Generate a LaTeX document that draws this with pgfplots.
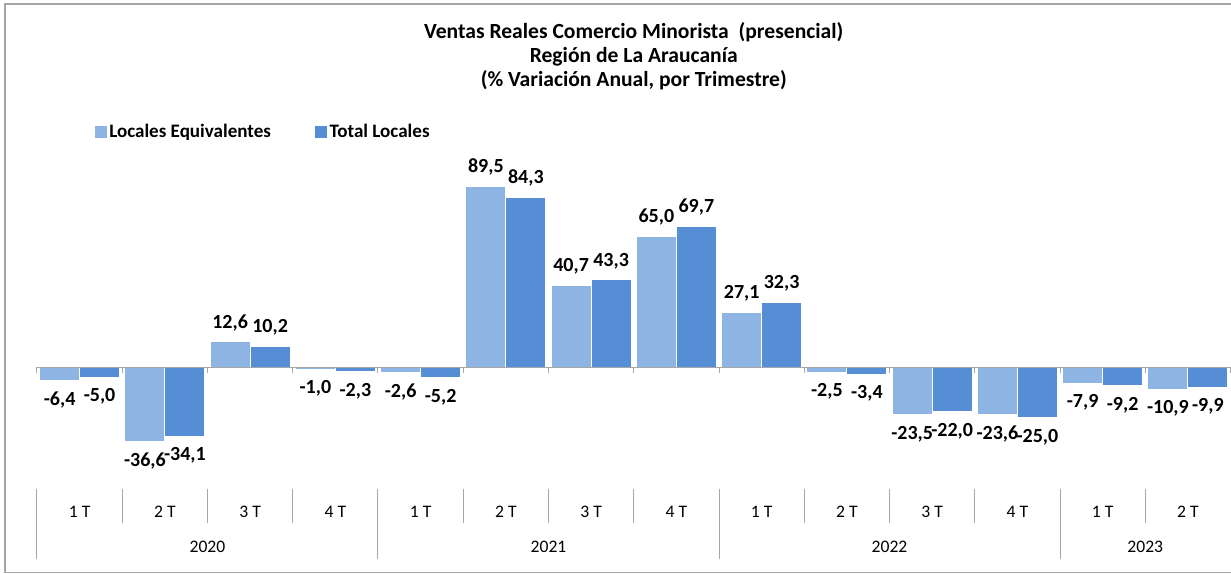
\documentclass[border=0pt]{standalone}
\usepackage{pgfplots}
\usepackage{pgfplotstable}
\pgfplotsset{compat=1.18}
\usepackage{fontspec}
\setmainfont{Carlito}

\definecolor{claro}{HTML}{8DB4E2}
\definecolor{oscuro}{HTML}{558ED5}
\definecolor{gris}{HTML}{A6A6A6}

% trimestres 2020-1T ... 2023-2T
\pgfplotstableread{
x   le     tl
0   -6.4   -5.0
1   -36.6  -34.1
2   12.6   10.2
3   -1.0   -2.3
4   -2.6   -5.2
5   89.5   84.3
6   40.7   43.3
7   65.0   69.7
8   27.1   32.3
9   -2.5   -3.4
10  -23.5  -22.0
11  -23.6  -25.0
12  -7.9   -9.2
13  -10.9  -9.9
}\datos

\begin{document}
\begin{tikzpicture}
\begin{scope}[x=0.75pt,y=0.75pt]
  \useasboundingbox (0,0) rectangle (1231,574);
  \draw[gris, line width=1.1pt] (1231,570) -- (5,570) -- (5,1.5) -- (1231,1.5);
\end{scope}
\begin{axis}[
    at={(27.75pt,86.7pt)}, anchor=south west,
    scale only axis, width=895.5pt, height=219.7pt,
    xmin=-0.5, xmax=13.5, ymin=-45, ymax=100,
    axis line style={draw=none}, ytick=\empty,
    xtick={0,...,13},
    xticklabels={1 T,2 T,3 T,4 T,1 T,2 T,3 T,4 T,1 T,2 T,3 T,4 T,1 T,2 T},
    major tick length=0pt,
    xticklabel style={anchor=center, yshift=-40.2pt, font=\fontsize{13.2}{15}\selectfont},
    clip=false,
    ybar=0pt, bar width=30pt,
    title={Ventas Reales Comercio Minorista\ \ (presencial)\\Región de La Araucanía\\(\% Variación Anual, por Trimestre)},
    title style={at={(axis description cs:0.5,1.347)}, anchor=center, align=center,
        font=\fontsize{16.2}{18}\selectfont\bfseries},
    legend columns=2,
    legend style={at={(axis description cs:0.0447,1.114)}, anchor=west, draw=none, fill=none,
        font=\fontsize{14.3}{17}\selectfont\bfseries,
        /tikz/every even column/.append style={column sep=31pt}},
    nodes near coords,
    every node near coord/.append style={font=\fontsize{15}{18}\selectfont\bfseries,
        inner ysep=8pt, inner xsep=0pt, black},
    /pgf/number format/.cd, fixed, fixed zerofill, precision=1, use comma, assume math mode=true,
]
\addplot[fill=claro, draw=white, line width=0.75pt,
    legend image code/.code={\fill[claro] (0pt,-4pt) rectangle (8.25pt,4pt);}]
    table[x=x, y=le] {\datos};
\addlegendentry{Locales Equivalentes}
\addplot[fill=oscuro, draw=white, line width=0.75pt,
    legend image code/.code={\fill[oscuro] (0pt,-4pt) rectangle (8.25pt,4pt);}]
    table[x=x, y=tl] {\datos};
\addlegendentry{Total Locales}

\draw[gris, line width=0.75pt] (axis cs:-0.5,0) -- (axis cs:13.5,0);
\pgfplotsinvokeforeach{-0.5,0.5,1.5,2.5,3.5,4.5,5.5,6.5,7.5,8.5,9.5,10.5,11.5,12.5,13.5}{
  \draw[gris, line width=0.75pt] (axis cs:#1,0) -- (axis cs:#1,-3);
}
\pgfplotsinvokeforeach{0.5,1.5,2.5,4.5,5.5,6.5,8.5,9.5,10.5,12.5}{
  \draw[gris, line width=0.75pt] (axis cs:#1,-60.1) -- (axis cs:#1,-77);
}
\pgfplotsinvokeforeach{-0.5,3.5,7.5,11.5}{
  \draw[gris, line width=0.75pt] (axis cs:#1,-60.1) -- (axis cs:#1,-94.8);
}
\node[font=\fontsize{13.2}{15}\selectfont] at (axis cs:1.5,-88.9) {2020};
\node[font=\fontsize{13.2}{15}\selectfont] at (axis cs:5.5,-88.9) {2021};
\node[font=\fontsize{13.2}{15}\selectfont] at (axis cs:9.5,-88.9) {2022};
\node[font=\fontsize{13.2}{15}\selectfont] at (axis cs:12.5,-88.9) {2023};
\end{axis}
\end{tikzpicture}
\end{document}
